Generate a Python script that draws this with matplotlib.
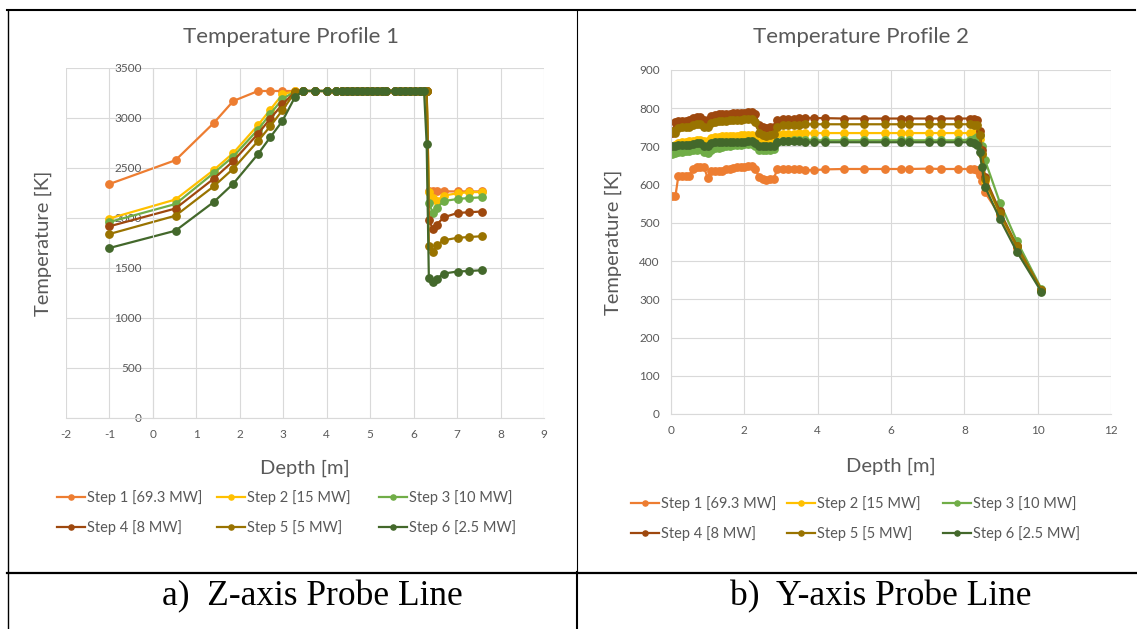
import matplotlib
matplotlib.use('Agg')
import matplotlib.pyplot as plt
from matplotlib.lines import Line2D

W, H = 1137, 629

steps = ['Step 1 [69.3 MW]', 'Step 2 [15 MW]', 'Step 3 [10 MW]',
         'Step 4 [8 MW]', 'Step 5 [5 MW]', 'Step 6 [2.5 MW]']
colors = ['#ED7D31', '#FFC000', '#70AD47', '#9E480E', '#997300', '#43682B']

# Profile 1 (Z-axis probe line)
depth_z = [-1.0, 0.52, 1.40, 1.85, 2.42, 2.70, 2.98, 3.27, 3.46, 3.72, 4.00, 4.21,
           4.35, 4.46, 4.58, 4.69, 4.81, 4.92, 5.04, 5.15, 5.27, 5.37, 5.57, 5.69,
           5.80, 5.92, 6.03, 6.15, 6.24, 6.30, 6.35, 6.44, 6.53, 6.70, 7.01, 7.28, 7.58]
z_step1 = [2340, 2578, 2950, 3170, 3270, 3270, 3270, 3270, 3270, 3270, 3270, 3270,
           3270, 3270, 3270, 3270, 3270, 3270, 3270, 3270, 3270, 3270, 3270, 3270,
           3270, 3270, 3270, 3270, 3270, 3270, 2270, 2268, 2267, 2266, 2266, 2266, 2266]
z_step2 = [1995, 2185, 2480, 2650, 2930, 3083, 3237, 3268, 3270, 3270, 3270, 3270,
           3270, 3270, 3270, 3270, 3270, 3270, 3270, 3270, 3270, 3270, 3270, 3270,
           3270, 3270, 3270, 3270, 3270, 3270, 2262, 2197, 2173, 2225, 2247, 2258, 2260]
z_step3 = [1960, 2140, 2450, 2615, 2885, 3040, 3190, 3265, 3270, 3270, 3270, 3270,
           3270, 3270, 3270, 3270, 3270, 3270, 3270, 3270, 3270, 3270, 3270, 3270,
           3270, 3270, 3270, 3270, 3270, 3270, 2153, 2053, 2100, 2170, 2190, 2200, 2207]
z_step4 = [1917, 2095, 2393, 2570, 2843, 2993, 3137, 3260, 3270, 3270, 3270, 3270,
           3270, 3270, 3270, 3270, 3270, 3270, 3270, 3270, 3270, 3270, 3270, 3270,
           3270, 3270, 3270, 3270, 3270, 3270, 1978, 1895, 1935, 2008, 2050, 2058, 2065]
z_step5 = [1840, 2023, 2317, 2493, 2770, 2917, 3077, 3258, 3270, 3270, 3270, 3270,
           3270, 3270, 3270, 3270, 3270, 3270, 3270, 3270, 3270, 3270, 3270, 3270,
           3270, 3270, 3270, 3270, 3270, 3270, 1718, 1660, 1728, 1778, 1802, 1810, 1818]
z_step6 = [1700, 1873, 2160, 2343, 2640, 2807, 2970, 3210, 3270, 3270, 3270, 3270,
           3270, 3270, 3270, 3270, 3270, 3270, 3270, 3270, 3270, 3270, 3270, 3270,
           3270, 3270, 3270, 3270, 3270, 2740, 1405, 1362, 1395, 1445, 1465, 1470, 1478]

# Profile 2 (Y-axis probe line)
depth_y = [0.03, 0.12, 0.2, 0.3, 0.4, 0.5, 0.6, 0.7, 0.8, 0.9, 1.0, 1.1, 1.2, 1.3,
           1.4, 1.5, 1.6, 1.7, 1.8, 1.9, 2.0, 2.1, 2.2, 2.3, 2.4, 2.5, 2.6, 2.7, 2.8,
           2.9, 3.05, 3.2, 3.35, 3.5, 3.65, 3.9, 4.2, 4.72, 5.25, 5.84, 6.27, 6.5,
           7.04, 7.35, 7.83, 8.15, 8.25, 8.35, 8.42, 8.48, 8.56, 8.97, 9.43, 10.1]
y_step1 = [570, 570, 622, 623, 622, 622, 640, 645, 646, 645, 618, 636, 636, 635,
           637, 640, 642, 643, 645, 646, 647, 648, 649, 642, 620, 614, 613, 614, 616,
           640, 640, 641, 640, 642, 638, 638, 640, 641, 641, 641, 641, 641,
           642, 641, 641, 641, 641, 638, 625, 610, 580, 520, 435, 325]
y_step2 = [690, 705, 710, 712, 712, 713, 715, 716, 717, 715, 714, 722, 725, 726,
           727, 727, 727, 728, 728, 729, 729, 730, 730, 726, 716, 714, 713, 714, 716,
           732, 733, 733, 733, 734, 735, 735, 735, 735, 735, 735, 735, 735,
           735, 735, 735, 735, 735, 734, 720, 680, 610, 525, 440, 325]
y_step3 = [680, 682, 686, 686, 687, 688, 690, 692, 693, 685, 683, 692, 695, 697,
           699, 700, 702, 703, 704, 705, 706, 707, 707, 702, 692, 690, 690, 690, 693,
           712, 715, 715, 716, 716, 717, 716, 716, 716, 716, 716, 716, 716,
           716, 716, 716, 718, 720, 725, 730, 700, 665, 553, 453, 328]
y_step4 = [735, 765, 766, 766, 767, 770, 775, 777, 778, 770, 768, 780, 783, 785,
           786, 786, 786, 787, 787, 788, 788, 790, 791, 785, 755, 750, 748, 750, 752,
           770, 772, 772, 772, 774, 775, 774, 774, 773, 773, 773, 773, 773,
           773, 773, 773, 773, 772, 768, 740, 690, 620, 530, 440, 325]
y_step5 = [740, 735, 748, 750, 750, 752, 755, 758, 760, 752, 750, 762, 765, 766,
           767, 767, 768, 768, 769, 770, 771, 772, 772, 765, 735, 730, 728, 730, 732,
           752, 755, 755, 756, 757, 758, 758, 758, 758, 758, 758, 758, 758,
           758, 758, 758, 758, 757, 755, 730, 680, 615, 525, 440, 325]
y_step6 = [700, 700, 703, 703, 703, 704, 706, 708, 708, 702, 700, 708, 711, 712,
           712, 712, 712, 712, 712, 712, 712, 713, 713, 710, 702, 700, 700, 700, 702,
           712, 713, 713, 713, 713, 711, 711, 711, 711, 711, 711, 711, 711,
           711, 711, 711, 711, 710, 705, 685, 645, 595, 510, 425, 320]

z_series = [z_step1, z_step2, z_step3, z_step4, z_step5, z_step6]
y_series = [y_step1, y_step2, y_step3, y_step4, y_step5, y_step6]

plt.rcParams['font.family'] = ['Lato', 'DejaVu Sans']
plt.rcParams['axes.unicode_minus'] = False
GREY = '#595959'
GRID = '#D9D9D9'


def px_box(x0, y0, x1, y1):
    return [x0 / W, 1 - y1 / H, (x1 - x0) / W, (y1 - y0) / H]


def style_axes(ax, xticks, yticks):
    ax.set_xlim(xticks[0], xticks[-1])
    ax.set_ylim(yticks[0], yticks[-1])
    ax.set_xticks(xticks)
    ax.set_yticks(yticks)
    ax.grid(True, color=GRID, lw=0.8)
    ax.set_axisbelow(True)
    for s in ['top', 'right']:
        ax.spines[s].set_visible(False)
    for s in ['left', 'bottom']:
        ax.spines[s].set_color(GRID)
        ax.spines[s].set_linewidth(0.8)
    ax.tick_params(length=0, labelsize=8.5, labelcolor=GREY)
    ax.tick_params(axis='x', pad=8)
    ax.tick_params(axis='y', pad=8)


def draw_profile(ax, xs, series):
    lines = []
    for vals, col, lab in zip(series, colors, steps):
        ln, = ax.plot(xs, vals, color=col, lw=1.6, marker='o', ms=5.3,
                      label=lab)
        lines.append(ln)
    return lines


fig = plt.figure(figsize=(W / 100, H / 100), dpi=100)

# left chart
ax1 = fig.add_axes(px_box(66, 68, 544, 418))
style_axes(ax1, list(range(-2, 10)), list(range(0, 3501, 500)))
ax1.spines['left'].set_position(('data', 0))
h1 = draw_profile(ax1, depth_z, z_series)
ax1.set_xlabel('Depth [m]', fontsize=14.5, color=GREY)
ax1.xaxis.set_label_coords((305 - 66) / 478, -(460 - 418) / 350, transform=ax1.transAxes)
ax1.set_ylabel('Temperature [K]', fontsize=14.5, color=GREY)
ax1.yaxis.set_label_coords(-(66 - 52.5) / 478, 0.5)
fig.text(291 / W, 1 - 37 / H, 'Temperature Profile 1', fontsize=16, color=GREY,
         ha='center', va='center')

# right chart
ax2 = fig.add_axes(px_box(671, 70, 1111, 414))
style_axes(ax2, list(range(0, 13, 2)), list(range(0, 901, 100)))
h2 = draw_profile(ax2, depth_y, y_series)
ax2.set_xlabel('Depth [m]', fontsize=14.5, color=GREY)
ax2.xaxis.set_label_coords(0.5, -(458 - 414) / 344, transform=ax2.transAxes)
ax2.set_ylabel('Temperature [K]', fontsize=14.5, color=GREY)
ax2.yaxis.set_label_coords(-(671 - 622.5) / 440, 0.5)
fig.text(861 / W, 1 - 37 / H, 'Temperature Profile 2', fontsize=16, color=GREY,
         ha='center', va='center')

# legends: Excel gives equal column widths, so one small legend per column
for hs, col_x, top in [(h1, [57, 217, 379], 490), (h2, [631, 787, 943], 496)]:
    for c in range(3):
        leg = fig.legend([hs[c], hs[c + 3]], [steps[c], steps[c + 3]],
                         loc='upper left', bbox_to_anchor=(col_x[c] / W, 1 - top / H),
                         frameon=False, fontsize=10.5, markerscale=0.7,
                         handlelength=1.9, handletextpad=0.15,
                         labelspacing=1.05, borderpad=0, borderaxespad=0)
        for t in leg.get_texts():
            t.set_color(GREY)

# captions
fig.text(312 / W, 1 - 597 / H, 'a)  Z-axis Probe Line', fontsize=25.5,
         family='Liberation Serif', ha='center', va='center')
fig.text(881 / W, 1 - 597 / H, 'b)  Y-axis Probe Line', fontsize=25.5,
         family='Liberation Serif', ha='center', va='center')


# table borders
def hline(y, x0, x1, lw):
    fig.add_artist(Line2D([x0 / W, x1 / W], [1 - y / H, 1 - y / H], color='black',
                          lw=lw, transform=fig.transFigure))


def vline(x, y0, y1, lw):
    fig.add_artist(Line2D([x / W, x / W], [1 - y0 / H, 1 - y1 / H], color='black',
                          lw=lw, transform=fig.transFigure))


hline(10, 7, 1135, 1.5)
hline(572.5, 7, 1137, 1.6)
vline(8, 10, 629, 1.0)
vline(577, 10, 572, 0.8)
vline(577, 572, 629, 1.5)

fig.savefig('out.png', dpi=100)
